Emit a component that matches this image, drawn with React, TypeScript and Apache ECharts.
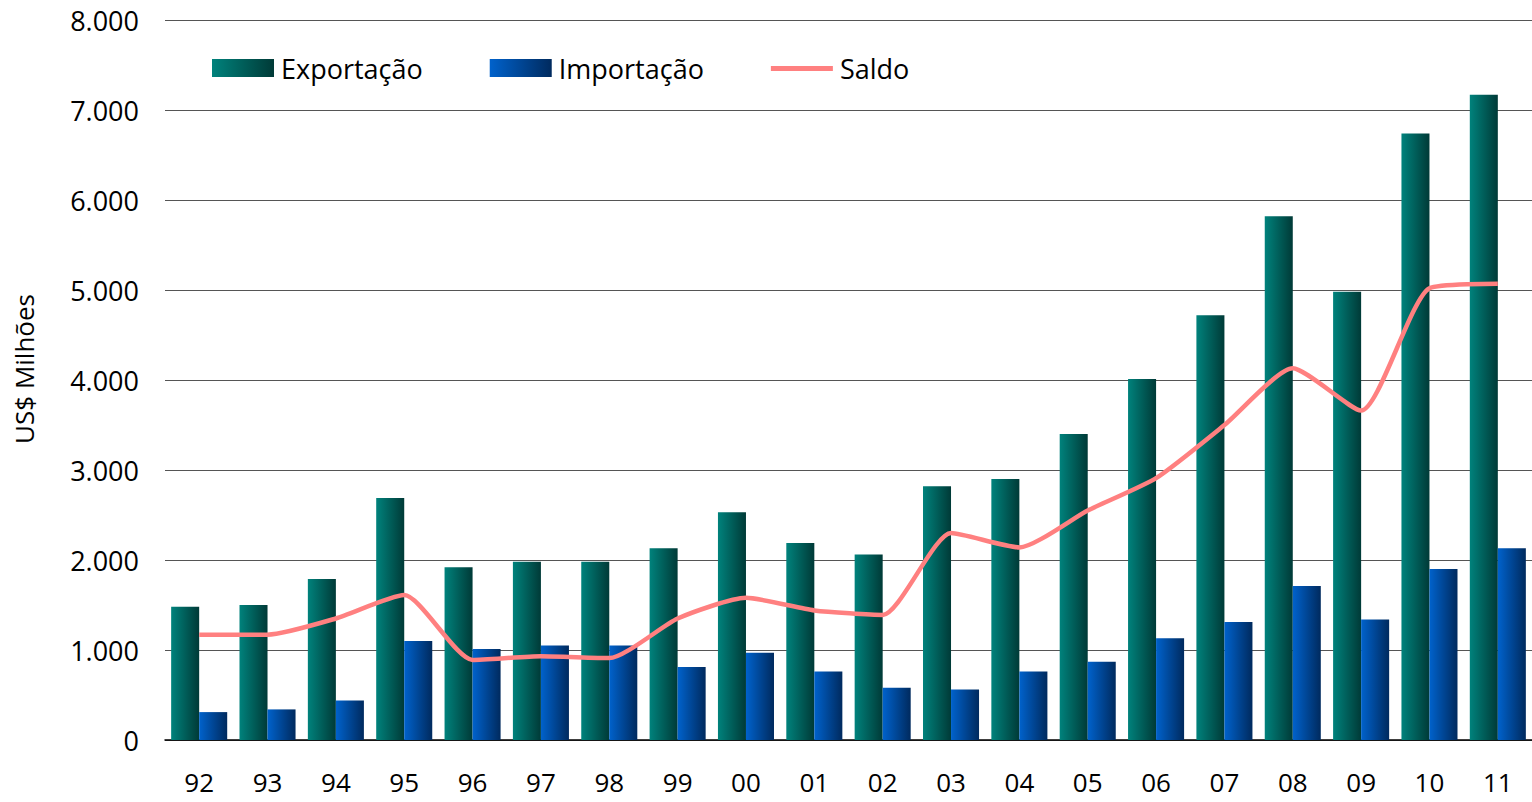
import React, { useEffect, useRef } from "react";
import * as echarts from "echarts";

const categories = ["92","93","94","95","96","97","98","99","00","01","02","03","04","05","06","07","08","09","10","11"];
const exportacao = [1480,1500,1790,2690,1920,1980,1980,2130,2530,2190,2060,2820,2900,3400,4010,4720,5820,4980,6740,7170];
const importacao = [310,340,440,1100,1010,1050,1050,810,970,760,580,560,760,870,1130,1310,1710,1340,1900,2130];
const saldo = [1170,1170,1350,1610,890,930,910,1350,1580,1440,1390,2300,2140,2550,2910,3500,4130,3660,5020,5070];
const yTicks = { min: 0, max: 8000, interval: 1000 };

const fmt = (v: number) => String(v).replace(/\B(?=(\d{3})+(?!\d))/g, ".");

export default function App() {
  const ref = useRef<HTMLDivElement>(null);
  useEffect(() => {
    if (!ref.current) return;
    const chart = echarts.init(ref.current, null, { renderer: "svg" });
    const font = "'Open Sans', 'Noto Sans', sans-serif";
    const grad = (a: string, b: string) =>
      new echarts.graphic.LinearGradient(0, 0, 1, 0, [
        { offset: 0, color: a },
        { offset: 1, color: b },
      ]);
    chart.setOption({
      animation: false,
      backgroundColor: "#ffffff",
      grid: { left: 165, right: 0, top: 20, bottom: 62, containLabel: false },
      legend: {
        left: 207,
        top: 48,
        itemWidth: 62,
        itemHeight: 18,
        itemGap: 67,
        textStyle: { fontFamily: font, fontSize: 27, lineHeight: 30, color: "#000", padding: [0, 0, 0, 2] },
        data: [
          { name: "Exportação", icon: "rect" },
          { name: "Importação", icon: "rect" },
          { name: "Saldo", icon: "path://M0,7h62v5h-62zM0,0h0.05v0.05h-0.05zM0,17.95h0.05v0.05h-0.05z" },
        ],
      },
      xAxis: {
        type: "category",
        data: categories,
        axisTick: { show: false },
        axisLine: { lineStyle: { color: "#000", width: 1.5 } },
        axisLabel: { color: "#000", fontSize: 26, lineHeight: 26, fontFamily: font, margin: 29 },
      },
      yAxis: {
        type: "value",
        min: yTicks.min,
        max: yTicks.max,
        interval: yTicks.interval,
        name: "US$ Milhões",
        nameLocation: "middle",
        nameGap: 128,
        nameRotate: 90,
        nameTextStyle: { color: "#000", fontSize: 26, fontFamily: font, padding: [0, 0, 0, 22] },
        axisLine: { show: false },
        axisTick: { show: false },
        splitLine: { lineStyle: { color: "#555", width: 1.2 } },
        axisLabel: { color: "#000", fontSize: 27, fontFamily: font, margin: 26, formatter: (v: number) => fmt(v) },
      },
      series: [
        {
          name: "Exportação",
          type: "bar",
          data: exportacao,
          barGap: "0%",
          barCategoryGap: "18%",
          itemStyle: { color: grad("#00827c", "#003a37") },
        },
        {
          name: "Importação",
          type: "bar",
          data: importacao,
          itemStyle: { color: grad("#0062cc", "#002a5e") },
        },
        {
          name: "Saldo",
          type: "line",
          data: saldo,
          smooth: 0.2,
          symbol: "none",
          lineStyle: { color: "#ff8080", width: 4.5 },
          itemStyle: { color: "#ff8080" },
          z: 5,
        },
      ],
    });
    return () => chart.dispose();
  }, []);
  return <div ref={ref} style={{ position: "fixed", left: 0, top: 0, width: 1532, height: 802 }} />;
}
